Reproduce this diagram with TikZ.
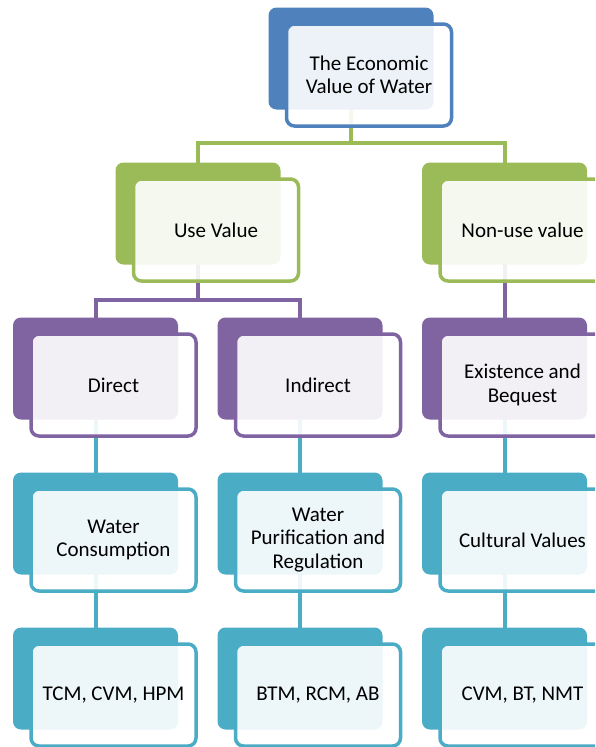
\documentclass[tikz,border=0pt]{standalone}
\usepackage{fontspec}
\setmainfont{Carlito}
\usepackage{tikz}
\usetikzlibrary{shadows,backgrounds}
\definecolor{sablue}{HTML}{4F81BD}
\definecolor{sagreen}{HTML}{9BBB59}
\definecolor{sapurple}{HTML}{8064A2}
\definecolor{saaqua}{HTML}{4BACC6}
\tikzstyle{levelbox}=[draw,%
                       rectangle,%
                       rounded corners = 8pt,%
                       line width      = 3.5pt,%
                       fill            = white,%
                       fill opacity    = 0.9,%
                       text opacity    = 1,%
                       align           = center,%
                       minimum width   = 165pt,%
                       minimum height  = 102pt,%
                       font            = \fontsize{21}{23.5}\selectfont,%
                       node distance   = 155pt]
\tikzstyle{bluebox}=[levelbox,draw=sablue,copy shadow={shadow xshift=-18pt,shadow yshift=16.5pt,fill=sablue,draw=none,fill opacity=1}]
\tikzstyle{greenbox}=[levelbox,draw=sagreen,copy shadow={shadow xshift=-18pt,shadow yshift=16.5pt,fill=sagreen,draw=none,fill opacity=1}]
\tikzstyle{purplebox}=[levelbox,draw=sapurple,copy shadow={shadow xshift=-18pt,shadow yshift=16.5pt,fill=sapurple,draw=none,fill opacity=1}]
\tikzstyle{aquabox}=[levelbox,draw=saaqua,copy shadow={shadow xshift=-18pt,shadow yshift=16.5pt,fill=saaqua,draw=none,fill opacity=1}]
\tikzstyle{greenline}=[draw=sagreen,line width=4pt]
\tikzstyle{purpleline}=[draw=sapurple,line width=4pt]
\tikzstyle{aqualine}=[draw=saaqua,line width=4pt]

\begin{document}
\begin{tikzpicture}
            \useasboundingbox (0pt,0pt) rectangle (595pt,-747pt);
            \clip (0pt,0pt) rectangle (595pt,-747pt);
            \node[bluebox] (econ) at (369pt,-75pt) {The Economic\\Value of Water};
            \node[greenbox][below of=econ, xshift=-153pt] (use) {Use Value};
            \node[greenbox][right of=use, node distance=306.5pt] (nonuse) {Non-use value};
            \node[purplebox][below of=use, xshift=-102.5pt] (direct) {Direct};
            \node[purplebox][right of=direct, node distance=204.5pt] (indirect) {Indirect};
            \node[purplebox][right of=indirect, node distance=204.5pt] (exist) {Existence and\\Bequest};
            \node[aquabox][below of=direct] (consume) {Water\\Consumption};
            \node[aquabox][below of=indirect] (purify) {Water\\Purification and\\Regulation};
            \node[aquabox][below of=exist] (culture) {Cultural Values};
            \node[aquabox][below of=consume] (tcm) {TCM, CVM, HPM};
            \node[aquabox][below of=purify] (btm) {BTM, RCM, AB};
            \node[aquabox][below of=culture] (cvm) {CVM, BT, NMT};
            \begin{pgfonlayer}{background}
            \coordinate (bus1) at ([xshift=-18pt,yshift=-68pt]econ.center);
            \coordinate (bus2) at ([xshift=-18pt,yshift=-70pt]use.center);
            \draw [greenline] ([xshift=-18pt]econ.center) -- (bus1);
            \draw [greenline] ([xshift=-18pt]use.center) |- (bus1) -| ([xshift=-18pt]nonuse.center);
            \draw [purpleline] ([xshift=-18pt]use.center) -- (bus2);
            \draw [purpleline] ([xshift=-18pt]direct.center) |- (bus2) -| ([xshift=-18pt]indirect.center);
            \draw [purpleline] ([xshift=-18pt]nonuse.center) -- ([xshift=-18pt]exist.center);
            \draw [aqualine] ([xshift=-18pt]direct.center) -- ([xshift=-18pt]consume.center);
            \draw [aqualine] ([xshift=-18pt]indirect.center) -- ([xshift=-18pt]purify.center);
            \draw [aqualine] ([xshift=-18pt]exist.center) -- ([xshift=-18pt]culture.center);
            \draw [aqualine] ([xshift=-18pt]consume.center) -- ([xshift=-18pt]tcm.center);
            \draw [aqualine] ([xshift=-18pt]purify.center) -- ([xshift=-18pt]btm.center);
            \draw [aqualine] ([xshift=-18pt]culture.center) -- ([xshift=-18pt]cvm.center);
            \end{pgfonlayer}
  \end{tikzpicture}
\end{document}
